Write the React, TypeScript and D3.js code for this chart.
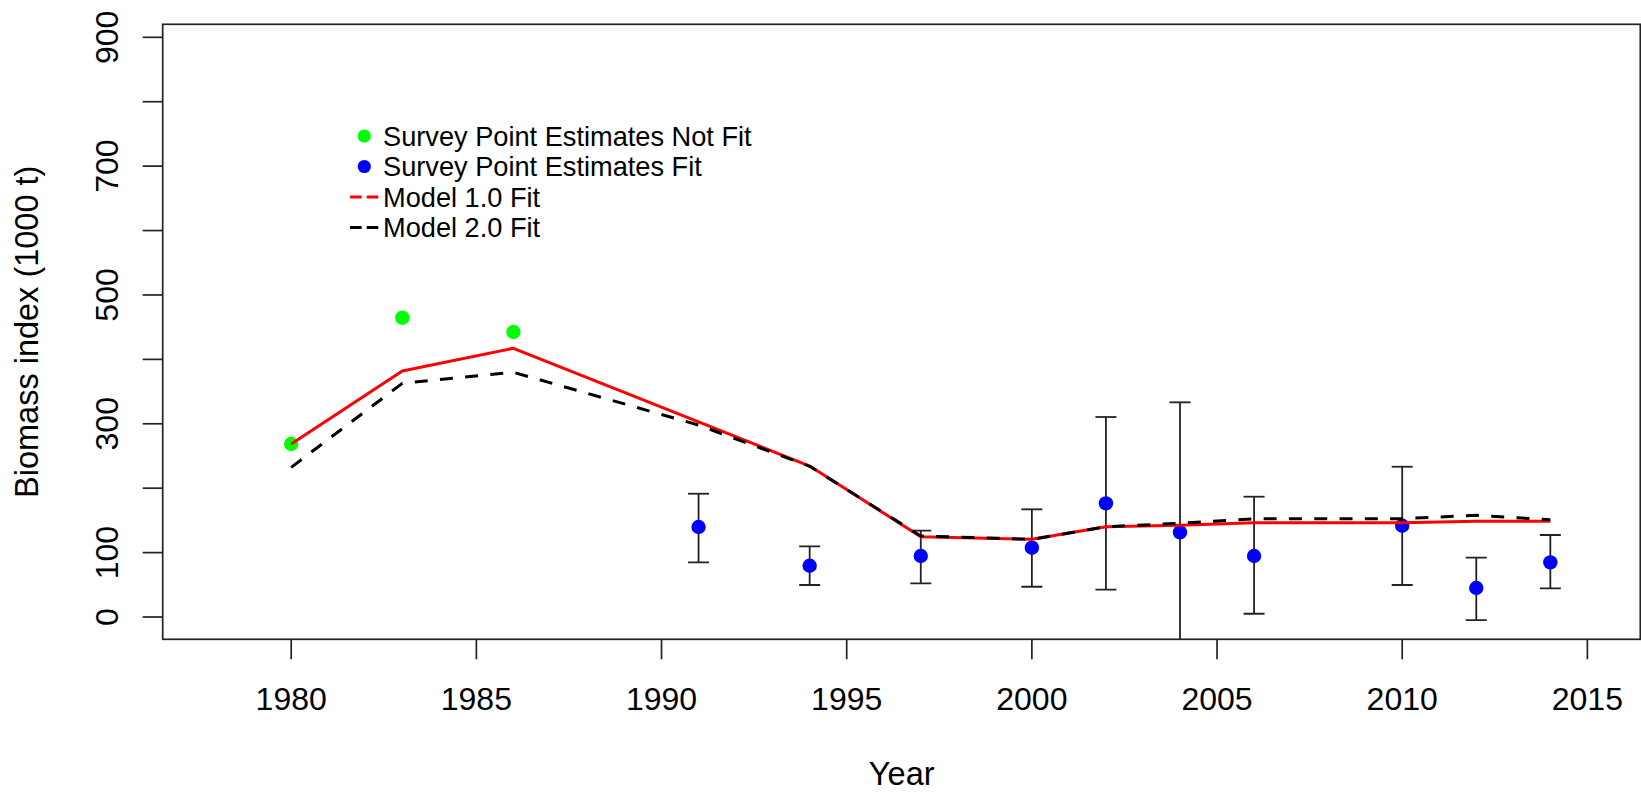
import React from "react";
import * as d3 from "d3";

// ---- data ----
const greenYears = [1980, 1983, 1986];
const greenVals = [268.6, 464.7, 442.5];

const blueYears = [1991, 1994, 1997, 2000, 2002, 2004, 2006, 2010, 2012, 2014];
const blueVals = [139.7, 79.6, 94.7, 107.6, 176.5, 131.5, 94.7, 141.7, 45.0, 84.9];
const blueLow = [84.9, 49.7, 52.3, 47.0, 42.4, -70.0, 5.1, 49.7, -4.7, 44.6];
const blueHigh = [191.4, 109.8, 134.0, 167.2, 310.5, 333.3, 186.8, 233.3, 92.1, 127.3];

const modelYears = [1980, 1983, 1986, 1991, 1994, 1997, 2000, 2002, 2004, 2006, 2010, 2012, 2014];
const model1 = [268.6, 382.0, 417.2, 303.0, 234.4, 124.7, 120.6, 140.2, 142.5, 146.4, 146.5, 148.5, 148.6];
const model2 = [232.4, 362.8, 379.9, 298.0, 234.0, 125.8, 120.6, 140.2, 145.5, 152.6, 152.6, 158.0, 151.0];

const xTicks = [1980, 1985, 1990, 1995, 2000, 2005, 2010, 2015];
const yTicks = [0, 100, 200, 300, 400, 500, 600, 700, 800, 900];
const yTickLabels = [0, 100, 300, 500, 700, 900];

const legendLabels = [
  "Survey Point Estimates Not Fit",
  "Survey Point Estimates Fit",
  "Model 1.0 Fit",
  "Model 2.0 Fit",
];

// ---- layout ----
const W = 1641;
const H = 793;
const left = 162.7;
const right = 1640.3;
const top = 24.3;
const bottom = 639.3;
const FONT = "'Liberation Sans', Arial, Helvetica, sans-serif";

export default function App() {
  const x = d3.scaleLinear().domain([1976.53, 2016.44]).range([left, 1640.7]);
  const y = d3.scaleLinear().domain([-34.6, 920.2]).range([bottom, top]);

  const line = d3
    .line<number>()
    .x((_, i) => x(modelYears[i]))
    .y((d) => y(d));

  const axisColor = "#222";
  const capHalf = 10.5;

  const legendRowY = [136, 166.5, 197, 227.5];

  return (
    <svg
      width={W}
      height={H}
      viewBox={`0 0 ${W} ${H}`}
      style={{ position: "absolute", left: 0, top: 0, background: "#fff" }}
    >
      <defs>
        <clipPath id="plotclip">
          <rect x={left} y={top} width={right - left} height={bottom - top} />
        </clipPath>
      </defs>
      <rect x={0} y={0} width={W} height={H} fill="#fff" />

      {/* frame */}
      <rect
        x={left}
        y={top}
        width={right - left}
        height={bottom - top}
        fill="none"
        stroke={axisColor}
        strokeWidth={1.7}
      />

      {/* y axis ticks */}
      {yTicks.map((t) => (
        <line key={"yt" + t} x1={left - 20} x2={left} y1={y(t)} y2={y(t)} stroke={axisColor} strokeWidth={1.7} />
      ))}
      {yTickLabels.map((t) => (
        <text
          key={"yl" + t}
          transform={`translate(117.5, ${y(t)}) rotate(-90)`}
          textAnchor="middle"
          fontFamily={FONT}
          fontSize={32}
          fill="#000"
        >
          {t}
        </text>
      ))}

      {/* x axis ticks */}
      {xTicks.map((t) => (
        <line key={"xt" + t} x1={x(t)} x2={x(t)} y1={bottom} y2={bottom + 20} stroke={axisColor} strokeWidth={1.7} />
      ))}
      {xTicks.map((t) => (
        <text key={"xl" + t} x={x(t)} y={709.5} textAnchor="middle" fontFamily={FONT} fontSize={32} fill="#000">
          {t}
        </text>
      ))}

      {/* axis titles */}
      <text x={(left + 1640.7) / 2} y={785} textAnchor="middle" fontFamily={FONT} fontSize={32.5} fill="#000">
        Year
      </text>
      <text
        transform={`translate(37.5, ${(top + bottom) / 2}) rotate(-90)`}
        textAnchor="middle"
        fontFamily={FONT}
        fontSize={32.5}
        fill="#000"
      >
        Biomass index (1000 t)
      </text>

      <g clipPath="url(#plotclip)">
        {/* error bars */}
        {blueYears.map((yr, i) => {
          const cx = x(yr);
          const lo = blueLow[i];
          const hi = blueHigh[i];
          return (
            <g key={"eb" + yr} stroke="#222" strokeWidth={1.8}>
              <line x1={cx} x2={cx} y1={y(lo)} y2={y(hi)} />
              <line x1={cx - capHalf} x2={cx + capHalf} y1={y(hi)} y2={y(hi)} />
              {y(lo) < bottom && <line x1={cx - capHalf} x2={cx + capHalf} y1={y(lo)} y2={y(lo)} />}
            </g>
          );
        })}

        {/* points */}
        {greenYears.map((yr, i) => (
          <circle key={"g" + yr} cx={x(yr)} cy={y(greenVals[i])} r={7.2} fill="#00ff00" />
        ))}
        {blueYears.map((yr, i) => (
          <circle key={"b" + yr} cx={x(yr)} cy={y(blueVals[i])} r={7.2} fill="#0000ff" />
        ))}

        {/* model lines */}
        <path d={line(model1) || ""} fill="none" stroke="#ff0000" strokeWidth={3} strokeLinejoin="round" />
        <path
          d={line(model2) || ""}
          fill="none"
          stroke="#000"
          strokeWidth={3}
          strokeDasharray="13,12.3"
          strokeLinejoin="round"
        />
      </g>

      {/* legend */}
      <circle cx={364.3} cy={legendRowY[0]} r={6.6} fill="#00ff00" />
      <circle cx={364.3} cy={legendRowY[1]} r={6.6} fill="#0000ff" />
      <line x1={350} x2={378.3} y1={legendRowY[2]} y2={legendRowY[2]} stroke="#ff0000" strokeWidth={3} strokeDasharray="11.7,5" />
      <line x1={350} x2={378.3} y1={legendRowY[3]} y2={legendRowY[3]} stroke="#000" strokeWidth={3} strokeDasharray="11.7,5" />
      {legendLabels.map((lab, i) => (
        <text key={"lg" + i} x={383} y={legendRowY[i] + 9.5} fontFamily={FONT} fontSize={27.2} fill="#000">
          {lab}
        </text>
      ))}
    </svg>
  );
}
